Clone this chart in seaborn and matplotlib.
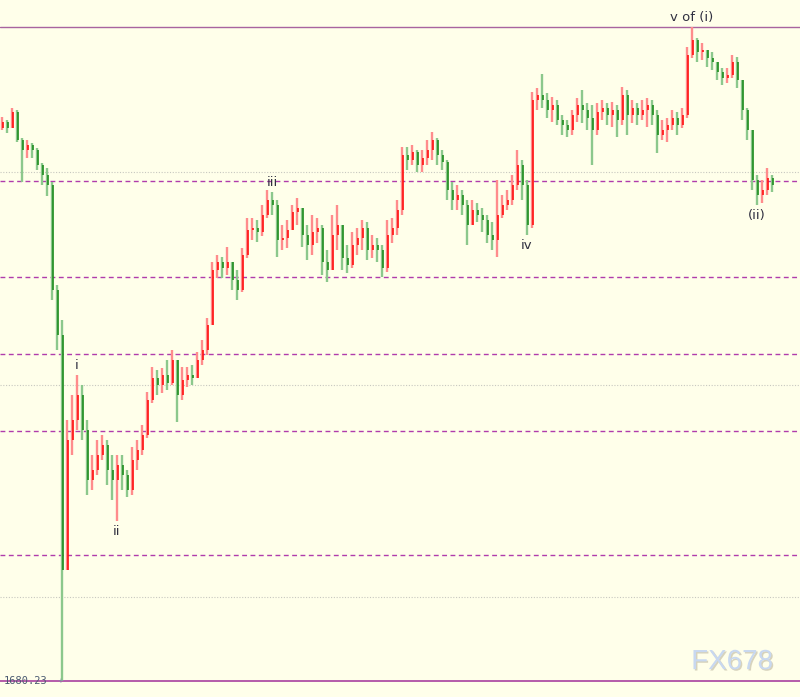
import matplotlib
matplotlib.use("Agg")
import matplotlib.pyplot as plt
import matplotlib.patheffects as pe
import seaborn as sns
import numpy as np
import pandas as pd

# price data, one candle per bar (open = previous close)
first_open = 1818.5
closes = [1820.0, 1818.5, 1822.5, 1815.5, 1813.0, 1814.25, 1813.0, 1809.25, 1806.75, 1804.25,
          1778.0, 1766.75, 1708.0, 1740.5, 1745.5, 1751.75, 1743.0, 1730.5, 1733.0, 1736.75,
          1739.25, 1733.0, 1730.5, 1734.25, 1731.75, 1728.0, 1735.5, 1738.0, 1741.75, 1750.5,
          1756.0, 1754.25, 1756.75, 1754.75, 1760.5, 1751.75, 1755.5, 1756.75, 1756.0, 1760.5,
          1763.0, 1769.25, 1783.0, 1785.0, 1783.5, 1785.0, 1780.5, 1778.0, 1786.75, 1793.0,
          1793.5, 1792.5, 1796.75, 1800.5, 1799.25, 1790.5, 1791.0, 1793.0, 1797.5, 1798.5,
          1791.75, 1789.25, 1792.5, 1793.5, 1785.0, 1783.0, 1791.75, 1794.25, 1786.0, 1784.25,
          1789.25, 1791.0, 1793.5, 1788.0, 1789.25, 1788.0, 1783.5, 1791.75, 1793.5, 1798.0,
          1811.75, 1810.5, 1812.5, 1809.25, 1811.0, 1813.0, 1815.5, 1811.75, 1810.0, 1803.0,
          1800.5, 1801.75, 1799.25, 1794.25, 1798.0, 1796.75, 1795.5, 1791.75, 1790.5, 1796.75,
          1799.25, 1800.5, 1804.25, 1809.25, 1804.25, 1794.25, 1825.5, 1826.75, 1825.5, 1823.0,
          1824.25, 1820.5, 1819.25, 1818.0, 1821.75, 1824.25, 1823.0, 1821.0, 1818.0, 1822.5,
          1823.5, 1821.75, 1823.0, 1820.5, 1826.75, 1821.75, 1823.5, 1821.75, 1823.0, 1824.25,
          1821.75, 1816.75, 1818.0, 1819.25, 1821.0, 1819.25, 1821.75, 1836.75, 1840.5, 1837.5,
          1838.0, 1836.0, 1835.0, 1832.5, 1831.0, 1831.75, 1835.0, 1830.5, 1823.0, 1818.0,
          1805.5, 1801.75, 1803.0, 1806.0, 1804.25]
highs = [1821.25, 1820.5, 1823.5, 1823.0, 1816.0, 1815.5, 1814.75, 1813.5, 1809.75, 1808.5,
         1805.0, 1779.25, 1770.5, 1745.5, 1751.75, 1756.75, 1754.25, 1745.5, 1736.75, 1740.5,
         1741.75, 1740.5, 1736.75, 1736.75, 1736.75, 1733.0, 1738.75, 1740.5, 1744.25, 1752.5,
         1758.75, 1758.0, 1758.5, 1760.5, 1763.0, 1760.5, 1758.75, 1758.75, 1759.25, 1762.5,
         1765.5, 1771.0, 1785.0, 1786.75, 1786.25, 1788.75, 1785.0, 1783.0, 1788.5, 1796.0,
         1796.0, 1795.5, 1799.25, 1803.0, 1802.5, 1800.5, 1794.25, 1795.5, 1799.25, 1801.0,
         1798.0, 1794.25, 1796.75, 1796.0, 1794.25, 1788.0, 1796.75, 1799.25, 1793.0, 1789.25,
         1792.5, 1793.5, 1795.5, 1795.0, 1791.75, 1791.0, 1789.25, 1795.5, 1796.0, 1800.5,
         1813.75, 1813.75, 1814.25, 1813.0, 1813.0, 1815.5, 1817.5, 1816.0, 1813.0, 1810.5,
         1805.0, 1804.25, 1803.0, 1800.5, 1800.5, 1799.75, 1798.5, 1796.75, 1795.0, 1805.5,
         1801.75, 1803.0, 1806.75, 1813.0, 1810.5, 1805.5, 1827.5, 1828.5, 1832.0, 1827.25,
         1826.25, 1825.5, 1821.75, 1820.5, 1823.0, 1826.0, 1828.0, 1824.75, 1824.25, 1824.75,
         1825.5, 1824.75, 1825.0, 1824.25, 1828.75, 1828.0, 1825.5, 1824.75, 1825.5, 1826.0,
         1825.5, 1823.0, 1820.5, 1821.0, 1823.0, 1822.5, 1823.5, 1838.75, 1843.75, 1841.0,
         1839.75, 1838.0, 1837.5, 1835.0, 1833.5, 1833.5, 1836.75, 1836.25, 1829.25, 1823.5,
         1818.0, 1806.75, 1805.5, 1808.5, 1806.75]
lows = [1818.0, 1817.25, 1819.25, 1815.0, 1805.0, 1811.0, 1811.0, 1808.0, 1804.25, 1801.5,
        1775.5, 1763.0, 1680.23, 1708.0, 1736.75, 1743.0, 1740.5, 1726.75, 1728.0, 1731.75,
        1735.5, 1729.25, 1725.5, 1720.25, 1728.0, 1726.25, 1726.75, 1733.0, 1736.75, 1741.0,
        1749.75, 1751.75, 1752.25, 1753.0, 1754.25, 1745.0, 1750.5, 1753.75, 1754.25, 1756.75,
        1759.25, 1761.75, 1769.25, 1781.0, 1781.0, 1781.75, 1778.0, 1775.5, 1777.5, 1786.0,
        1790.5, 1790.0, 1791.5, 1796.0, 1796.75, 1786.25, 1788.0, 1788.5, 1793.0, 1794.25,
        1788.75, 1785.5, 1786.75, 1789.75, 1781.75, 1780.0, 1783.0, 1788.0, 1783.0, 1782.25,
        1783.5, 1786.75, 1788.0, 1785.5, 1786.0, 1785.0, 1781.25, 1782.5, 1789.75, 1791.75,
        1796.75, 1808.0, 1809.25, 1807.5, 1807.5, 1809.25, 1810.5, 1809.25, 1808.0, 1800.5,
        1798.0, 1798.0, 1796.75, 1789.25, 1794.25, 1795.0, 1792.5, 1789.75, 1788.0, 1786.25,
        1796.0, 1798.0, 1799.25, 1803.0, 1800.5, 1791.75, 1793.5, 1823.0, 1823.5, 1821.0,
        1820.0, 1819.25, 1816.75, 1816.25, 1816.75, 1820.0, 1819.75, 1818.0, 1809.25, 1816.75,
        1820.5, 1819.25, 1818.75, 1816.25, 1819.25, 1816.75, 1819.75, 1819.25, 1820.5, 1818.75,
        1819.25, 1812.25, 1815.5, 1815.0, 1818.0, 1816.75, 1818.5, 1821.0, 1836.0, 1835.0,
        1835.5, 1833.75, 1833.0, 1830.5, 1829.25, 1829.75, 1831.0, 1828.5, 1820.5, 1815.5,
        1803.0, 1799.25, 1799.75, 1801.75, 1802.5]

# horizontal levels
fib_levels = [1805.25, 1781.25, 1762.0, 1742.75, 1711.75]
grid_levels = [1807.5, 1754.25, 1701.25]
top_level = 1843.75
bottom_level = 1680.23

# wave labels: text, candle index, side
wave_labels = [("i", 15, "high"), ("ii", 23, "low"), ("iii", 54, "high"),
               ("iv", 105, "low"), ("v of (i)", 138, "high"), ("(ii)", 151, "low")]

bg = "#ffffea"
sns.set_style("white", {"axes.facecolor": bg, "figure.facecolor": bg})
plt.rcParams["font.family"] = ["DejaVu Sans"]

df = pd.DataFrame({"close": closes, "high": highs, "low": lows})
df["open"] = [first_open] + closes[:-1]
df["high"] = df[["high", "open", "close"]].max(axis=1)
df["low"] = df[["low", "open", "close"]].min(axis=1)
df["x"] = np.arange(len(df))
df["up"] = df["close"] >= df["open"]

fig = plt.figure(figsize=(8, 6.97), dpi=100)
ax = fig.add_axes([0, 0, 1, 1])
ax.set_facecolor(bg)

for lvl in grid_levels:
    ax.axhline(lvl, color="#c8c8c0", lw=0.8, ls=(0, (1, 1.5)), zorder=1)
for lvl in fib_levels:
    ax.axhline(lvl, color="#b03cac", lw=1.0, ls=(0, (3.5, 2.5)), zorder=1)
ax.axhline(top_level, color="#a8649f", lw=1.0, zorder=1)
ax.axhline(bottom_level, color="#a8409f", lw=1.2, zorder=1)

palette = {True: ("#ff8c8c", "#ff1010"), False: ("#8cc88c", "#1e8c1e")}
for up, grp in df.groupby("up"):
    light, dark = palette[up]
    ax.vlines(grp["x"], grp["low"], grp["high"], color=light, lw=1.7, zorder=2)
    lo = grp[["open", "close"]].min(axis=1)
    hi = grp[["open", "close"]].max(axis=1)
    hi = np.maximum(hi, lo + 0.3)
    ax.vlines(grp["x"] + 0.12, lo, hi, color=dark, lw=1.2, zorder=3)

for text, idx, side in wave_labels:
    if side == "high":
        ax.annotate(text, (idx, df.loc[idx, "high"]), xytext=(0, 2), textcoords="offset points",
                    ha="center", va="bottom", fontsize=9.5, color="#303040")
    else:
        ax.annotate(text, (idx, df.loc[idx, "low"]), xytext=(0, -3), textcoords="offset points",
                    ha="center", va="top", fontsize=9.5, color="#303040")

ax.text(0.3, bottom_level, "1680.23", fontsize=7.5, family="DejaVu Sans Mono",
        color="#4a5a70", va="center", ha="left", zorder=4)
ax.text(11.6, bottom_level, "+", fontsize=5, color="#8090a0", va="center", ha="center")

ax.text(0.915, 0.05, "FX678", transform=ax.transAxes, fontsize=20, family="Liberation Sans",
        color="#c8d8f0", ha="center", va="center",
        path_effects=[pe.withSimplePatchShadow(offset=(1, -1), shadow_rgbFace="#b0a890", alpha=0.5)])

ax.set_xlim(-0.4, 159.6)
ax.set_ylim(1676.25, 1850.5)
ax.set_xticks([])
ax.set_yticks([])
sns.despine(ax=ax, left=True, bottom=True)

fig.savefig("out.png", dpi=100, facecolor=bg)
